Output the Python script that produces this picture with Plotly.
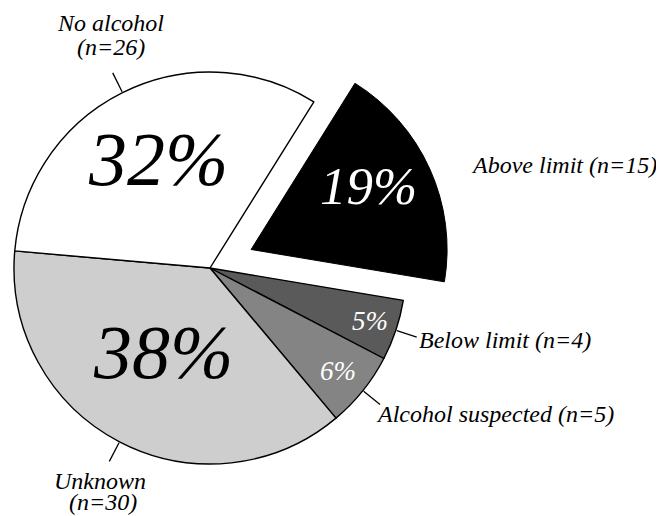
import math
import plotly.graph_objects as go

# ---- data ----
categories = ["Above limit", "Below limit", "Alcohol suspected", "Unknown", "No alcohol"]
counts = [15, 4, 5, 30, 26]
percent_labels = ["19%", "5%", "6%", "38%", "32%"]
outer_labels = [["Above limit (n=15)"], ["Below limit (n=4)"], ["Alcohol suspected (n=5)"],
                ["Unknown", "(n=30)"], ["No alcohol", "(n=26)"]]

# ---- style ----
colors = ["#000000", "#5a5a5a", "#848484", "#cecece", "#ffffff"]
pct_colors = ["white", "white", "white", "black", "black"]
pct_sizes = [53, 27, 27, 76, 76]
pct_rfrac = [0.67, 0.86, 0.84, 0.50, 0.60]
pct_shift = [(-2, 10), (0, 0), (0, 0), (-2, 3), (0, 4)]          # pixels, +y = up
label_xanchor = ["left", "left", "left", "center", "center"]
# per-line offsets (pixels, +y = down) of each label line from the leader end
label_offsets = [[(18, 6)], [(0, 3)], [(-6, 10)],
                 [(-9, 20), (-6, 41)], [(-2, -50), (-2, -26)]]
LABEL_SIZE = 24
FONT = "Liberation Serif, Times New Roman, serif"
W, H = 664, 516
CX, CY, R = 202.0, 260.0, 196.0
ROTATION = 32
PULL = 0.23
LEAD_IN, LEAD_OUT = 1, 22

total = sum(counts)
angles = []
a = ROTATION
for v in counts:
    a1 = a + 360.0 * v / total
    angles.append((a, a1, (a + a1) / 2))
    a = a1


def pt(cx, cy, r, ang):
    t = math.radians(ang)
    return cx + r * math.sin(t), cy - r * math.cos(t)


def px2paper(x, y):
    return x / W, 1 - y / H


def domain(cx, cy):
    return dict(x=[(cx - R) / W, (cx + R) / W], y=[1 - (cy + R) / H, 1 - (cy - R) / H])


# pulled-out centre of the exploded slice
pcx, pcy = pt(CX, CY, PULL * R, angles[0][2])

main_colors = ["rgba(0,0,0,0)"] + colors[1:]
main_lw = [0] + [1.4] * (len(counts) - 1)
expl_colors = [colors[0]] + ["rgba(0,0,0,0)"] * (len(counts) - 1)
expl_lw = [1] + [0] * (len(counts) - 1)

fig = go.Figure()
fig.add_trace(go.Pie(labels=categories, values=counts, sort=False, direction="clockwise",
                     rotation=ROTATION, textinfo="none", hoverinfo="skip", showlegend=False,
                     marker=dict(colors=main_colors, line=dict(color="black", width=main_lw)),
                     domain=domain(CX, CY)))
fig.add_trace(go.Pie(labels=categories, values=counts, sort=False, direction="clockwise",
                     rotation=ROTATION, textinfo="none", hoverinfo="skip", showlegend=False,
                     marker=dict(colors=expl_colors, line=dict(color="black", width=expl_lw)),
                     domain=domain(pcx, pcy)))

annotations = []
shapes = []
for i, (a0, a1, mid) in enumerate(angles):
    ccx, ccy = (pcx, pcy) if i == 0 else (CX, CY)
    # percentage label
    x, y = pt(ccx, ccy, pct_rfrac[i] * R, mid)
    xp, yp = px2paper(x, y)
    annotations.append(dict(x=xp, y=yp, xref="paper", yref="paper", text=percent_labels[i],
                            showarrow=False, xanchor="center", yanchor="middle",
                            xshift=pct_shift[i][0], yshift=pct_shift[i][1],
                            font=dict(family=FONT, size=pct_sizes[i], color=pct_colors[i], style="italic")))
    # outer label
    if i == 0:
        ex, ey = pt(ccx, ccy, R * 1.12, mid)
    else:
        sx, sy = pt(ccx, ccy, R + LEAD_IN, mid)
        ex, ey = pt(ccx, ccy, R + LEAD_OUT, mid)
        x0, y0 = px2paper(sx, sy)
        x1, y1 = px2paper(ex, ey)
        shapes.append(dict(type="line", xref="paper", yref="paper", x0=x0, y0=y0, x1=x1, y1=y1,
                           line=dict(color="black", width=1.3)))
    exp, eyp = px2paper(ex, ey)
    for line_text, (dx, dy) in zip(outer_labels[i], label_offsets[i]):
        annotations.append(dict(x=exp, y=eyp, xref="paper", yref="paper", text=line_text,
                                showarrow=False, xanchor=label_xanchor[i], yanchor="middle",
                                xshift=dx, yshift=-dy, align="center",
                                font=dict(family=FONT, size=LABEL_SIZE, color="black", style="italic")))

fig.update_layout(width=W, height=H, margin=dict(l=0, r=0, t=0, b=0),
                  paper_bgcolor="white", plot_bgcolor="white",
                  annotations=annotations, shapes=shapes,
                  font=dict(family=FONT, style="italic"))

fig.write_html("out.html")
